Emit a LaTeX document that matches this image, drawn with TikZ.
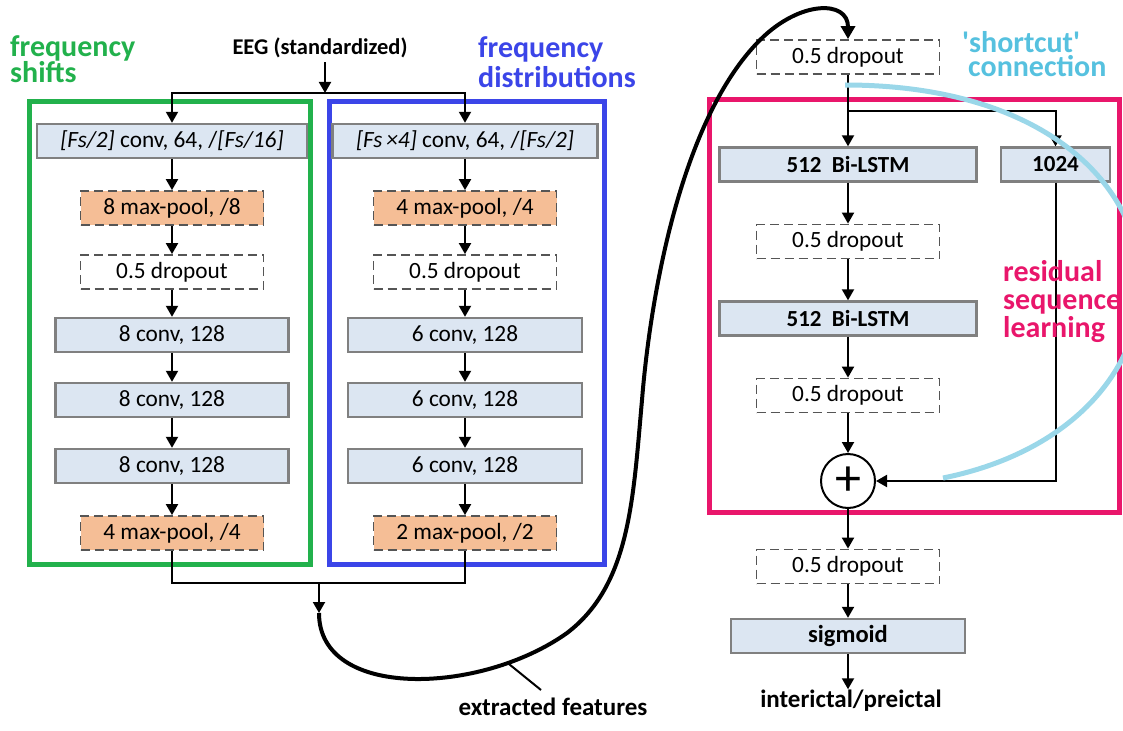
\documentclass[tikz,border=0pt]{standalone}
\usepackage{fontspec}
\setmainfont{Carlito}
\usetikzlibrary{arrows.meta,calc}

\definecolor{boxblue}{RGB}{220,230,242}
\definecolor{boxorange}{RGB}{245,190,150}
\definecolor{boxgray}{RGB}{128,128,128}
\definecolor{dashgray}{RGB}{85,85,85}
\definecolor{grpgreen}{RGB}{34,177,76}
\definecolor{grpblue}{RGB}{59,69,232}
\definecolor{grppink}{RGB}{233,22,107}
\definecolor{shortblue}{RGB}{86,193,223}
\definecolor{arcblue}{RGB}{154,215,233}
\newcommand\tightlskip{\lineskiplimit=-100pt\relax\lineskip=0pt\relax}

\begin{document}
\begin{tikzpicture}[x=1pt,y=-1pt,
  base/.style={inner sep=0pt, minimum height=34pt, font=\fontsize{23.3}{27}\selectfont, text=black},
  solidbox/.style={base, draw=boxgray, line width=2.4pt, fill=boxblue},
  boldbox/.style={solidbox, font=\fontsize{23}{27}\selectfont\bfseries},
  poolbox/.style={base, draw=dashgray, line width=1.8pt, dash pattern=on 9pt off 5pt, fill=boxorange, minimum width=183pt},
  dropbox/.style={base, draw=dashgray, line width=1.8pt, dash pattern=on 9pt off 5pt, fill=white, minimum width=183pt},
  arr/.style={line width=2pt, -{Triangle[length=11pt,width=12pt]}},
  plain/.style={line width=2pt},
  grp/.style={line width=5pt},
  lbl/.style={anchor=base west, inner sep=0pt, align=left},
  txt/.style={font=\fontsize{22.5}{26}\selectfont\bfseries, inner sep=0pt}
]
\useasboundingbox (0,0) rectangle (1123,730);

% group frames
\draw[grp, grpgreen] (29,101.5) rectangle (310.5,564.5);
\draw[grp, grpblue] (329.5,101.5) rectangle (604.5,564.5);
\draw[grp, grppink] (709,99.5) rectangle (1119.5,512.5);

% left column
\node[solidbox, minimum width=270pt] (c1) at (172,141) {\textit{[Fs/2]} conv, 64, /\textit{[Fs/16]}};
\node[poolbox] (p1) at (172,208) {8 max-pool, /8};
\node[dropbox] (d1) at (172,272) {0.5 dropout};
\node[solidbox, minimum width=233pt] (k1) at (172,335) {8 conv, 128};
\node[solidbox, minimum width=233pt] (k2) at (172,400) {8 conv, 128};
\node[solidbox, minimum width=233pt] (k3) at (172,466) {8 conv, 128};
\node[poolbox] (p2) at (172,533) {4 max-pool, /4};

% middle column
\node[solidbox, minimum width=265pt] (c2) at (465,141) {\textit{[Fs\,×4]} conv, 64, /\textit{[Fs/2]}};
\node[poolbox] (q1) at (465,208) {4 max-pool, /4};
\node[dropbox] (e1) at (465,272) {0.5 dropout};
\node[solidbox, minimum width=234pt] (m1) at (465,335) {6 conv, 128};
\node[solidbox, minimum width=234pt] (m2) at (465,400) {6 conv, 128};
\node[solidbox, minimum width=234pt] (m3) at (465,466) {6 conv, 128};
\node[poolbox] (q2) at (465,533) {2 max-pool, /2};

% input
\node[txt] (eeg) at (320,48) {EEG (standardized)};
\coordinate (split) at (325,93);
\draw[arr] ($(eeg.south -| split)+(0,4)$) -- (split);
\draw[arr] (split) -| (c1.north);
\draw[arr] (split) -| (c2.north);

\foreach \a/\b in {c1/p1,p1/d1,d1/k1,k1/k2,k2/k3,k3/p2,c2/q1,q1/e1,e1/m1,m1/m2,m2/m3,m3/q2}
  \draw[arr] (\a) -- (\b);

% merge
\coordinate (join) at (319,583);
\coordinate (feat) at (319,613);
\draw[plain] (p2.south) |- (join);
\draw[plain] (q2.south) |- (join);
\draw[arr] (join) -- (feat);

% right column
\node[dropbox] (r0) at (848,57) {0.5 dropout};
\coordinate (br) at (848,111);
\node[boldbox, minimum width=257pt] (b1) at (848,164.5) {512\hspace{0.45em}Bi-LSTM};
\node[boldbox, minimum width=109pt] (h) at (1055.5,164.5) {1024};
\node[dropbox] (r1) at (848,241.5) {0.5 dropout};
\node[boldbox, minimum width=257pt] (b2) at (848,318.5) {512\hspace{0.45em}Bi-LSTM};
\node[dropbox] (r2) at (848,395.5) {0.5 dropout};
\node[circle, draw, line width=2pt, minimum size=54pt, inner sep=0pt, fill=white, font=\fontsize{52}{52}\selectfont] (plus) at (848,481) {+};
\node[dropbox] (r3) at (848,566.5) {0.5 dropout};
\node[boldbox, minimum width=234pt, font=\fontsize{24.5}{28}\selectfont\bfseries] (sig) at (848,636) {sigmoid};
\node[txt, anchor=base, font=\fontsize{25}{28}\selectfont\bfseries] (out) at (851,707) {interictal/preictal};

\draw[arr] (r0) -- (b1);
\draw[arr] (br) -| (h.north);
\foreach \a/\b in {b1/r1,r1/b2,b2/r2,r2/plus,plus/r3,r3/sig}
  \draw[arr] (\a) -- (\b);
\draw[arr] (sig.south) -- (sig.south |- out.north);
\draw[arr] (h.south) |- (plus.east);

% extracted features curve
\draw[line width=4pt, -{Triangle[length=13pt,width=14pt]}]
  (feat) .. controls (319,700) and (480,695) .. (567,633) coordinate[pos=0.8] (fp)
  .. controls (630,585) and (633,500) .. (642,400)
  .. controls (650,300) and (680,120) .. (760,40)
  .. controls (800,0) and (848,0) .. (r0.north);
\coordinate (pe) at (541,690);
\draw[plain] (fp) -- (pe);
\node[txt, anchor=base, font=\fontsize{25}{28}\selectfont\bfseries] (ef) at (553,715) {extracted features};

% shortcut arc
\coordinate (arcS) at (845,85);
\coordinate (arcE) at (943,478);
\draw[line width=5pt, arcblue] (arcS) .. controls (1210,85) and (1230,420) .. (arcE);

% labels (base anchor = baseline of the last line)
\node[lbl, text=grpgreen, font=\fontsize{30}{26}\selectfont\bfseries\tightlskip] (fs) at (10,83) {frequency\\shifts};
\node[lbl, text=grpblue, font=\fontsize{30}{30}\selectfont\bfseries\tightlskip] (fd) at (478,88) {frequency\\distributions};
\node[lbl, text=shortblue, font=\fontsize{30}{24}\selectfont\bfseries\tightlskip] (sc) at (962,77) {\textquotesingle shortcut\textquotesingle\\\hspace*{6pt}connection};
\node[lbl, text=grppink, font=\fontsize{30}{28}\selectfont\bfseries\tightlskip] (rs) at (1003,337) {residual\\sequence\\learning};
\end{tikzpicture}
\end{document}
